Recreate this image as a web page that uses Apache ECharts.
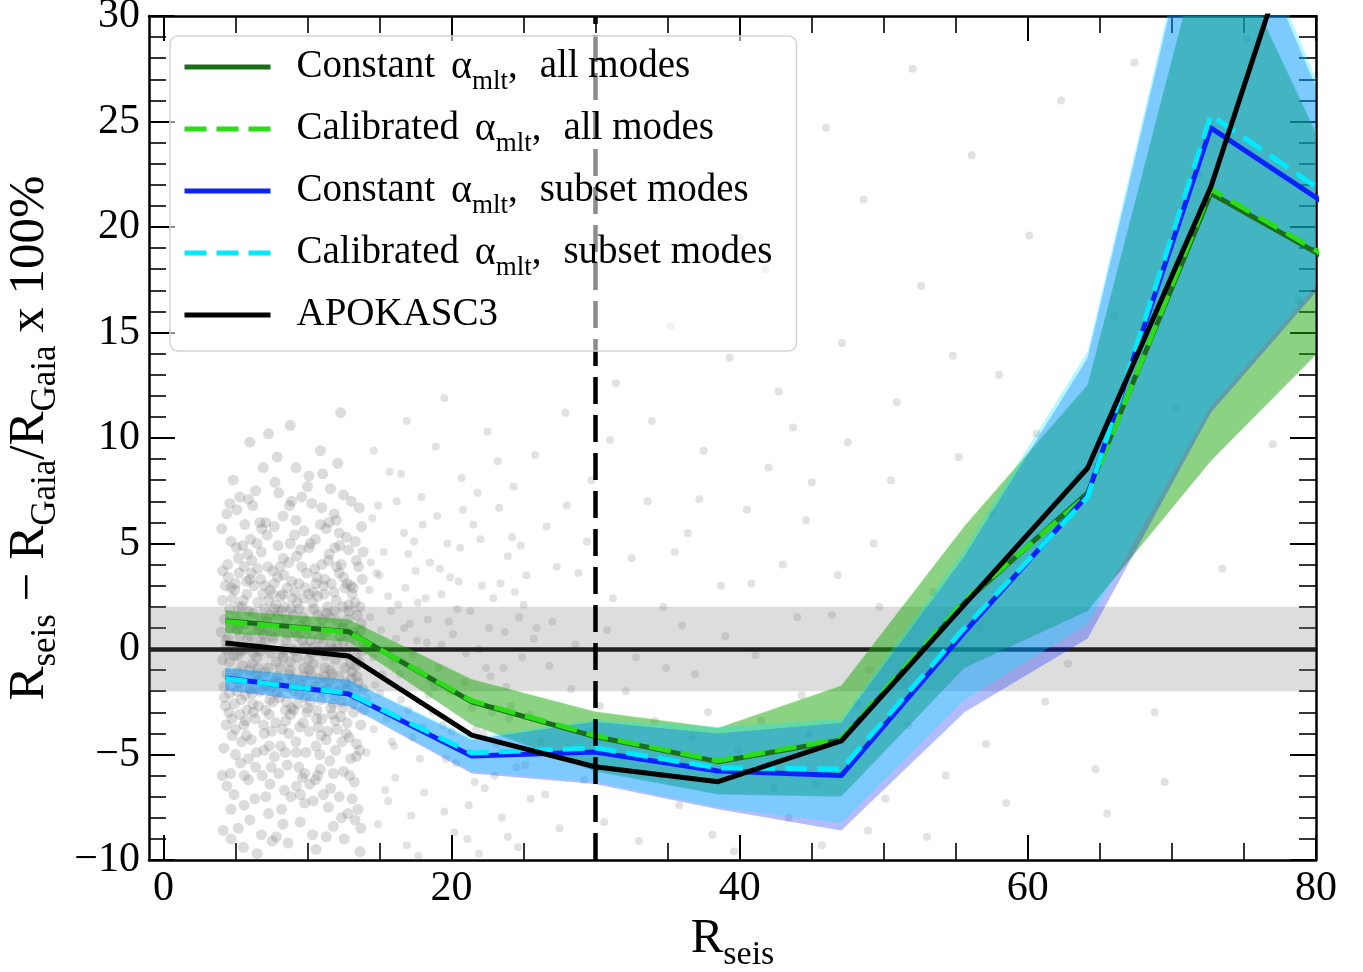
<!DOCTYPE html>
<html><head><meta charset="utf-8">
<script src="https://cdn.jsdelivr.net/npm/echarts@6/dist/echarts.min.js"></script>
<style>html,body{margin:0;padding:0;background:#fff}#c{width:1363px;height:972px}</style>
</head><body><div id="c"></div>
<script>
// ---- data ----
const binX = [4.3, 12.85, 21.4, 29.95, 38.5, 47.05, 55.6, 64.15, 72.7, 81.25];
const constAll = [1.34, 0.82, -2.50, -4.15, -5.34, -4.31, 2.2, 7.4, 21.6, 18.32];
const calibAll = [1.30, 0.80, -2.45, -4.10, -5.30, -4.25, 2.3, 7.3, 21.8, 18.4];
const constSub = [-1.37, -2.13, -5.07, -4.88, -5.78, -6.00, 0.8, 7.3, 24.7, 20.83];
const calibSub = [-1.40, -2.10, -4.93, -4.68, -5.64, -5.69, 1.0, 7.2, 25.3, 21.32];
const apokasc = [0.28, -0.33, -4.08, -5.58, -6.29, -4.36, 2.1, 8.58, 21.9, 39.66];

const constAllLo = [0.77, 0.35, -3.6, -5.8, -6.9, -7.0, -0.9, 1.8, 8.9, 14.8];
const constAllHi = [1.82, 1.40, -1.45, -2.97, -3.76, -1.75, 5.8, 12.5, 35.0, 22.6];
const calibAllLo = [0.75, 0.33, -3.55, -5.75, -6.85, -6.95, -0.85, 1.85, 8.95, 14.85];
const calibAllHi = [1.85, 1.42, -1.42, -2.95, -3.72, -1.72, 5.85, 12.55, 35.1, 22.7];
const constSubLo = [-1.95, -2.70, -5.9, -6.4, -7.6, -8.6, -3.0, 0.5, 11.2, 17.9];
const constSubHi = [-0.90, -1.47, -4.3, -3.45, -4.0, -3.5, 4.4, 13.8, 38.4, 24.6];
const calibSubLo = [-1.92, -2.66, -5.8, -6.3, -7.5, -8.25, -2.4, 1.2, 11.5, 18.2];
const calibSubHi = [-0.86, -1.44, -4.2, -3.35, -3.7, -3.3, 4.7, 14.1, 38.8, 25.0];

const lineNames = ['Constant αmlt, all modes', 'Calibrated αmlt, all modes', 'Constant αmlt, subset modes', 'Calibrated αmlt, subset modes', 'APOKASC3'];
const legendTexts = ['Constant {g|α}{s|mlt},{w| }all modes', 'Calibrated {g|α}{s|mlt},{w| }all modes', 'Constant {g|α}{s|mlt},{w| }subset modes', 'Calibrated {g|α}{s|mlt},{w| }subset modes', 'APOKASC3'];

const xMajor = [0, 20, 40, 60, 80];
const xMinor = [5, 10, 15, 25, 30, 35, 45, 50, 55, 65, 70, 75];
const band = [-2, 2];
const dashX = 30;

const cloudPts = [
[4.1,2.3],[4.4,-1.2],[4.7,5.1],[5.0,-3.8],[5.3,0.6],[5.6,3.9],[5.9,-6.2],[6.2,1.7],[6.5,-0.4],[6.8,4.6],[7.1,-2.9],[7.4,2.8],[7.7,-5.1],[8.0,0.9],[8.3,6.3],[8.6,-1.8],[8.9,3.2],[9.2,-4.4],[9.5,1.1],[9.8,-7.3],[10.1,4.8],[10.4,-0.7],[10.7,2.5],[11.0,-3.3],[11.3,5.7],[11.6,0.2],[11.9,-2.2],[12.2,3.6],[12.5,-5.8],[12.8,1.4],[13.1,-1.1],[13.4,4.2],[13.7,-3.6],
[4.2,-4.7],[4.5,3.4],[4.8,0.1],[5.1,6.6],[5.4,-2.4],[5.7,1.2],[6.0,-8.1],[6.3,3.0],[6.6,-1.5],[6.9,0.7],[7.2,5.4],[7.5,-3.9],[7.8,2.1],[8.1,-0.9],[8.4,-6.7],[8.7,4.1],[9.0,1.6],[9.3,-2.6],[9.6,7.2],[9.9,-4.9],[10.2,0.4],[10.5,3.8],[10.8,-1.4],[11.1,-6.9],[11.4,2.0],[11.7,-3.1],[12.0,6.1],[12.3,-0.2],[12.6,2.9],[12.9,-4.2],[13.2,0.8],[13.5,-7.6],[13.8,3.3],
[4.0,0.8],[4.3,-2.7],[4.6,1.9],[4.9,-6.9],[5.2,4.3],[5.5,-0.8],[5.8,2.6],[6.1,-4.3],[6.4,7.5],[6.7,-2.0],[7.0,0.3],[7.3,-7.8],[7.6,3.7],[7.9,-1.3],[8.2,1.8],[8.5,-3.4],[8.8,5.0],[9.1,-0.1],[9.4,-5.6],[9.7,2.4],[10.0,-2.8],[10.3,6.9],[10.6,-4.6],[10.9,1.0],[11.2,-0.9],[11.5,4.5],[11.8,-8.4],[12.1,1.3],[12.4,-2.5],[12.7,5.3],[13.0,-5.2],[13.3,2.2],[13.6,-0.6],[13.9,-2.9],
[4.15,-8.6],[4.45,4.0],[4.75,-3.3],[5.05,1.5],[5.35,-5.4],[5.65,5.9],[5.95,-1.0],[6.25,-3.0],[6.55,2.2],[6.85,-6.0],[7.15,1.3],[7.45,-0.2],[7.75,7.9],[8.05,-2.3],[8.35,3.5],[8.65,-9.2],[8.95,0.0],[9.25,4.4],[9.55,-1.7],[9.85,2.9],[10.15,-6.4],[10.45,1.9],[10.75,-3.7],[11.05,8.3],[11.35,-1.9],[11.65,3.1],[11.95,-4.8],[12.25,0.6],[12.55,-9.0],[12.85,4.7],[13.15,-2.6],[13.45,1.6],[13.75,5.8],
[4.05,5.7],[4.35,0.4],[4.65,-5.9],[4.95,2.8],[5.25,-1.6],[5.55,-9.4],[5.85,4.5],[6.15,-0.7],[6.45,-4.9],[6.75,3.3],[7.05,-1.1],[7.35,-4.6],[7.65,0.5],[7.95,4.9],[8.25,-3.8],[8.55,1.4],[8.85,-7.0],[9.15,2.7],[9.45,-2.1],[9.75,5.6],[10.05,-0.5],[10.35,-8.8],[10.65,3.4],[10.95,-2.4],[11.25,0.8],[11.55,-5.3],[11.85,6.4],[12.15,-1.3],[12.45,2.0],[12.75,-3.5],[13.05,7.0],[13.35,-0.8],[13.65,-9.6],
[4.25,1.4],[4.55,-3.0],[4.85,8.0],[5.15,-0.3],[5.45,2.0],[5.75,-4.1],[6.05,5.2],[6.35,-7.1],[6.65,0.9],[6.95,-3.6],[7.25,3.9],[7.55,-9.1],[7.85,-0.6],[8.15,2.5],[8.45,-4.9],[8.75,6.8],[9.05,-2.9],[9.35,0.6],[9.65,-6.1],[9.95,3.6],[10.25,-1.2],[10.55,5.2],[10.85,-5.0],[11.15,2.6],[11.45,-7.5],[11.75,0.0],[12.05,-3.8],[12.35,4.0],[12.65,-1.6],[12.95,0.2],[13.25,-6.3],[13.55,3.9],[13.85,-1.9],
[4.1,-0.5],[4.4,6.4],[4.7,-7.6],[5.0,3.1],[5.3,-3.1],[5.6,0.0],[5.9,7.1],[6.2,-2.6],[6.5,-9.7],[6.8,1.4],[7.1,6.0],[7.4,-1.9],[7.7,1.9],[8.0,-5.9],[8.3,-0.4],[8.6,2.9],[8.9,-2.8],[9.2,8.6],[9.5,-8.2],[9.8,0.1],[10.1,-3.9],[10.4,2.7],[10.7,-0.1],[11.0,4.0],[11.3,-4.3],[11.6,7.6],[11.9,1.8],[12.2,-7.0],[12.5,3.4],[12.8,-1.9],[13.1,2.6],[13.4,-4.5],[13.7,0.9],
[4.3,3.0],[4.6,-2.1],[4.9,-0.3],[5.2,-8.5],[5.5,4.9],[5.8,-2.9],[6.1,3.6],[6.4,-5.6],[6.7,6.0],[7.0,-4.0],[7.3,2.3],[7.6,-2.5],[7.9,9.1],[8.2,-7.6],[8.5,0.4],[8.8,-1.0],[9.1,5.4],[9.4,1.9],[9.7,-3.5],[10.0,7.7],[10.3,-2.0],[10.6,-9.5],[10.9,5.9],[11.2,3.3],[11.5,-1.5],[11.8,-5.9],[12.1,8.8],[12.4,1.0],[12.7,-4.0],[13.0,3.0],[13.3,-8.1],[13.6,6.7],[13.9,0.3],
[4.2,-1.8],[4.8,2.4],[5.4,-0.1],[6.0,3.3],[6.6,-2.7],[7.2,1.0],[7.8,-3.5],[8.4,2.0],[9.0,-1.4],[9.6,3.9],[10.2,-2.5],[10.8,0.5],[11.4,-3.9],[12.0,2.3],[12.6,-0.9],[13.2,-3.0],[4.5,0.5],[5.1,-2.0],[5.7,-3.4],[6.3,0.1],[6.9,2.6],[7.5,0.6],[8.1,3.9],[8.7,-4.0],[9.3,-0.4],[9.9,1.3],[10.5,-1.8],[11.1,3.0],[11.7,-1.2],[12.3,-3.2],[12.9,1.8],[13.5,-1.6],
[4.35,-3.6],[4.95,-1.4],[5.55,2.3],[6.15,-2.1],[6.75,0.4],[7.35,-3.1],[7.95,1.6],[8.55,-2.5],[9.15,0.8],[9.75,-0.9],[10.35,2.2],[10.95,-4.1],[11.55,1.5],[12.15,-2.0],[12.75,3.1],[13.35,-0.4],[4.65,1.0],[5.25,3.6],[5.85,0.5],[6.45,-1.2],[7.05,3.0],[7.65,-1.6],[8.25,-0.2],[8.85,1.9],[9.45,-3.7],[10.05,0.9],[10.65,-2.9],[11.25,-0.3],[11.85,2.7],[12.45,0.3],[13.05,-1.4],[13.65,2.0],
[4.4,-6.5],[5.0,-5.0],[5.6,-7.4],[6.2,6.8],[6.8,-8.8],[7.4,-6.4],[8.0,7.4],[8.6,-5.5],[9.2,6.1],[9.8,-5.9],[10.4,-7.2],[11.0,6.7],[11.6,-6.6],[12.2,5.5],[12.8,-7.8],[13.4,-5.1],[4.7,-9.0],[5.3,7.2],[5.9,-5.2],[6.5,5.0],[7.1,-7.0],[7.7,5.8],[8.3,-8.3],[8.9,7.0],[9.5,-6.9],[10.1,8.2],[10.7,-6.0],[11.3,-8.9],[11.9,4.8],[12.5,7.3],[13.1,-7.1],[13.7,-8.5],
[6.0,9.8],[8.8,10.6],[10.9,9.4],[12.3,11.2],[7.3,10.2],
[4.12,3.7],[4.58,-0.6],[5.07,4.8],[5.43,-4.4],[5.91,1.8],[6.37,-3.3],[6.82,5.7],[7.28,-0.9],[7.69,3.1],[8.14,-4.6],[8.61,0.7],[9.07,-2.0],[9.52,4.7],[9.96,-3.0],[10.44,0.1],[10.89,-5.7],[11.33,1.7],[11.78,-2.6],[12.24,4.9],[12.71,-0.3],[13.18,2.9],[13.62,-4.8],
[4.23,-2.3],[4.69,2.9],[5.16,-1.1],[5.62,-6.0],[6.08,0.6],[6.53,3.8],[6.97,-4.8],[7.41,1.6],[7.88,-2.1],[8.32,4.3],[8.79,-0.6],[9.23,-6.5],[9.68,1.5],[10.13,-1.0],[10.58,3.1],[11.04,-2.0],[11.49,6.0],[11.94,-0.5],[12.39,-4.4],[12.87,2.1],[13.32,5.1],[13.79,-0.1],
[4.31,0.0],[4.77,-4.1],[5.21,2.0],[5.69,-2.2],[6.14,4.2],[6.58,-0.9],[7.02,1.9],[7.49,-5.6],[7.93,3.4],[8.38,0.0],[8.83,-3.1],[9.29,2.2],[9.74,-1.3],[10.19,5.0],[10.63,-3.3],[11.08,0.3],[11.56,-1.0],[12.01,3.9],[12.47,-2.8],[12.92,-6.0],[13.41,0.6],[13.87,4.6],
[4.09,-6.0],[4.61,6.9],[5.12,0.9],[5.58,-3.6],[6.03,-1.9],[6.49,1.1],[6.93,8.6],[7.38,-2.4],[7.84,-8.9],[8.29,2.6],[8.74,-1.2],[9.21,-4.9],[9.64,0.4],[10.09,2.6],[10.55,-6.2],[11.02,1.4],[11.46,4.2],[11.91,-3.4],[12.36,-8.0],[12.83,0.7],[13.27,-2.2],[13.74,1.2],
[4.47,-0.1],[5.33,1.1],[6.22,-0.2],[7.12,-1.7],[8.02,-1.6],[8.93,2.4],[9.81,-2.3],[10.72,1.6],[11.62,-2.8],[12.52,1.0],[13.43,-1.3],[4.91,-2.6],[5.79,3.2],[6.71,-0.1],[7.59,2.6],[8.48,-2.9],[9.39,3.1],[10.27,-0.2],[11.18,-1.3],[12.08,0.2],[12.98,-0.7]
];
const midPts = [
[14.1,-4.9],[14.3,2.8],[14.5,6.2],[14.7,-1.7],[14.9,-8.3],[15.1,0.9],[15.3,4.6],[15.5,-3.3],[15.7,8.4],[15.9,-0.5],[16.1,-6.1],[16.3,2.1],[16.5,-2.4],[16.7,5.5],[16.9,-9.3],[17.1,1.2],[17.3,-4.2],[17.5,3.7],[17.7,-1.0],[17.9,7.2],[18.1,-6.8],[18.3,0.3],[18.5,4.1],[18.7,-3.0],[18.9,9.6],[19.1,-0.9],[19.3,2.6],[19.5,-7.7],[19.7,5.0],[19.9,-2.0],[20.1,0.7],[20.3,-5.4],[20.5,3.2],[20.7,8.1],[20.9,-1.6],[21.1,-9.0],[21.3,1.8],[21.5,5.9],[21.7,-3.8],[21.9,0.0],[22.1,3.0],[22.3,-6.6],[22.5,10.3],[22.7,-1.3],[22.9,2.4],[23.1,-4.5],[23.3,6.7],[23.5,-8.0],[23.7,0.8],[23.9,4.4],[24.1,-2.7],[24.3,7.7],[24.5,-5.6],[24.7,1.5],[24.9,-0.4],[25.2,3.5],[25.5,-7.1],[25.8,9.2],
[14.2,0.2],[14.6,-3.8],[15.0,3.5],[15.4,-6.7],[15.8,1.8],[16.2,7.0],[16.6,-0.6],[17.0,-2.9],[17.4,5.1],[17.8,-5.2],[18.2,2.4],[18.6,-1.5],[19.0,6.3],[19.4,-3.6],[19.8,1.3],[20.2,-8.7],[20.6,4.8],[21.0,-0.2],[21.4,-2.8],[21.8,7.4],[22.2,-4.0],[22.6,1.0],[23.0,-6.0],[23.4,3.1],[23.8,-1.8],[24.2,5.3],[24.6,-9.4],[25.0,2.1],[25.4,-3.1],[25.7,0.5],
[14.4,4.1],[15.2,-1.2],[16.0,-4.6],[16.8,2.9],[17.6,0.4],[18.4,-2.2],[19.2,3.8],[20.0,-3.9],[20.8,6.6],[21.6,-6.3],[22.4,-0.9],[23.2,8.9],[24.0,-3.3],[24.8,4.9],
[14.15,-2.3],[14.35,1.5],[14.55,-0.4],[14.8,3.6],[15.05,-2.1],[15.35,0.0],[15.6,2.5],[15.85,-4.4],[16.15,0.5],[16.4,-1.2],[16.7,1.0],[17.0,4.5],[17.3,-0.3],[17.65,2.2],[18.0,-3.7],[18.35,1.4],[18.8,-1.8],[19.3,0.2],[19.9,3.4],[14.9,6.8],[15.6,-7.2],[16.5,8.3],[17.2,-7.9],[18.0,5.9],
[19.6,-5.2],[20.4,1.9],[21.2,-7.4],[22.0,5.2],[22.8,-3.0],[23.6,-0.9],[24.4,2.7],[25.1,-5.5],[25.9,1.0],[14.6,9.4],[16.9,10.8],[19.5,11.9],[21.9,-9.7],[17.7,-9.8],[23.9,-8.9]
];
const sparsePts = [
[26.2,-4.4],[26.6,5.8],[27.0,1.3],[27.5,-8.5],[27.9,11.2],[28.3,-1.9],[28.8,3.6],[29.2,-6.2],[29.7,8.0],[30.3,-2.7],[30.8,0.9],[31.4,12.6],[31.9,-5.1],[32.5,4.3],[33.0,-9.1],[33.6,7.0],[34.1,-3.4],[34.7,2.0],[35.2,15.3],[35.8,-7.4],[36.4,5.5],[36.9,-1.2],[37.5,9.4],[38.1,-8.8],[38.7,3.0],[39.3,13.8],[39.9,-4.8],[40.5,6.6],[41.1,-0.3],[41.8,18.0],[42.4,-6.6],[43.0,4.0],[43.7,10.5],[44.3,-2.2],[45.0,7.9],[45.7,-9.3],[46.4,1.6],[47.1,14.5],[47.8,-5.2],[48.6,21.3],[49.3,5.0],[50.1,-7.1],[50.9,11.7],[51.7,-3.6],[52.6,17.2],[53.4,2.7],[54.3,-6.0],[55.2,9.1],[56.1,23.4],[57.1,-4.5],[58.0,13.0],[59.0,4.2],[60.1,19.6],[61.2,-2.5],[62.3,26.0],[63.5,8.3],[64.7,-5.7],[66.0,15.8],[67.4,27.8],[68.8,-3.0],[70.3,11.4],[71.9,22.5],[73.5,3.8],[75.2,28.9],[77.0,9.7],[78.8,16.5],
[26.8,-0.8],[28.0,6.8],[29.5,-3.9],[31.0,9.9],[32.8,-0.4],[34.5,-6.0],[36.0,1.1],[37.8,-3.0],[40.0,19.5],[42.0,8.6],[44.8,-4.0],[46.0,24.7],[49.0,-1.0],[52.0,27.5],[57.5,6.4],[65.5,-7.8],[69.5,-6.3],
[26.5,-6.9],[27.3,3.9],[28.1,-4.7],[28.6,0.2],[29.4,5.1],[30.6,-8.2],[31.2,2.4],[32.1,-2.0],[33.3,-5.9],[33.9,10.8],[34.9,-0.9],[35.5,4.6],[36.7,-4.2],[37.2,7.1],[38.4,-6.0],[39.0,0.6],[39.6,-9.6],[40.8,3.1],[41.5,-3.4],[42.7,12.2],[43.4,-8.0],[44.0,1.5],[44.6,6.1],[45.3,-6.4],[46.8,3.5],[47.5,9.8],[48.2,-2.6],[48.9,-8.6],[49.7,2.0],[50.5,8.0],[51.3,-1.5],[53.0,-8.9],[54.8,13.9],[56.7,1.0],[58.5,-7.3],[60.6,10.2],[62.8,-0.7]
];

// ---- chart ----
const font = 'Liberation Serif';
const zip = arr => binX.map((x, i) => [x, arr[i]]);

function bandSeries(lo, hi, color) {
  return {
    type: 'custom', z: 2, silent: true, clip: true,
    data: [[binX[0], lo[0]]],
    renderItem: function (params, api) {
      const pts = [];
      for (let i = 0; i < binX.length; i++) pts.push(api.coord([binX[i], hi[i]]));
      for (let i = binX.length - 1; i >= 0; i--) pts.push(api.coord([binX[i], lo[i]]));
      return { type: 'polygon', shape: { points: pts }, style: { fill: color } };
    }
  };
}
function lineSeries(name, vals, color, dashed) {
  return {
    type: 'line', name: name, z: 3, data: zip(vals), symbol: 'none', clip: true, silent: true,
    lineStyle: { color: color, width: 5, type: dashed ? [22, 10] : 'solid', cap: 'butt', join: 'round' },
    itemStyle: { color: color }
  };
}
function xAxisDef(pos, ticks, len, isMajor, showLine) {
  return {
    type: 'value', min: -1, max: 80, position: pos, splitLine: { show: false },
    axisLine: { show: showLine, onZero: false, lineStyle: { color: '#000', width: 2.5 } },
    axisTick: { show: true, inside: true, length: len, customValues: ticks, lineStyle: { color: '#000', width: isMajor ? 2 : 1.6 } },
    axisLabel: { show: false }
  };
}
function yAxisDef(pos) {
  return {
    type: 'value', min: -10, max: 30, interval: 5, position: pos, splitLine: { show: false },
    axisLine: { show: true, onZero: false, lineStyle: { color: '#000', width: 2.5 } },
    axisTick: { show: true, inside: true, length: 26, lineStyle: { color: '#000', width: 2 } },
    minorTick: { show: true, splitNumber: 5, length: 17, lineStyle: { color: '#000', width: 1.6 } },
    axisLabel: { show: false }
  };
}
const xNameStyle = { color: '#000', fontFamily: font, fontSize: 49, lineHeight: 66,
  rich: { s: { color: '#000', fontFamily: font, fontSize: 34, lineHeight: 34, padding: [32, 0, 0, 0] } } };
const yNameStyle = { color: '#000', fontFamily: font, fontSize: 51, lineHeight: 68,
  rich: { s: { color: '#000', fontFamily: font, fontSize: 35, lineHeight: 35, padding: [33, 0, 0, 0] } } };

const xBottom = xAxisDef('bottom', xMajor, 25, true, true);
xBottom.axisLabel = { show: true, customValues: xMajor, margin: 8, color: '#000', fontFamily: font, fontSize: 42 };
xBottom.name = 'R{s|seis}';
xBottom.nameLocation = 'middle';
xBottom.nameGap = 46;
xBottom.nameMoveOverlap = false;
xBottom.nameTextStyle = xNameStyle;

const yLeft = yAxisDef('left');
yLeft.axisLabel = { show: true, margin: 9, color: '#000', fontFamily: font, fontSize: 42,
  formatter: v => String(v).replace('-', '\u2212') };
yLeft.name = 'R{s|seis} \u2212 R{s|Gaia}/R{s|Gaia} x 100%';
yLeft.nameLocation = 'middle';
yLeft.nameRotate = 90;
yLeft.nameGap = 79;
yLeft.nameTextStyle = yNameStyle;

const option = {
  animation: false,
  backgroundColor: '#fff',
  grid: { left: 149, right: 47, top: 16, bottom: 112, containLabel: false, outerBoundsMode: 'none' },
  xAxis: [xBottom, xAxisDef('bottom', xMinor, 17, false, false), xAxisDef('top', xMajor, 25, true, true), xAxisDef('top', xMinor, 17, false, false)],
  yAxis: [yLeft, yAxisDef('right')],
  legend: {
    data: lineNames, orient: 'vertical', left: 170, top: 36, z: 10, selectedMode: false,
    itemWidth: 86, itemHeight: 14, itemGap: 6, padding: [3, 24, 8, 12],
    backgroundColor: 'rgba(255,255,255,0.55)', borderColor: '#d4d4d4', borderWidth: 1.5, borderRadius: 8,
    lineStyle: { width: 5 },
    itemStyle: { opacity: 0 },
    formatter: name => legendTexts[lineNames.indexOf(name)],
    textStyle: { color: '#000', fontFamily: font, fontSize: 39, lineHeight: 56, padding: [0, 0, 0, 21],
      rich: {
        s: { color: '#000', fontFamily: font, fontSize: 27, lineHeight: 27, padding: [29, 0, 0, 0] },
        g: { color: '#000', fontFamily: font, fontSize: 40, lineHeight: 40, padding: [0, 0, 0, 6] },
        w: { color: '#000', fontFamily: font, fontSize: 39, lineHeight: 39, width: 22 }
      } }
  },
  series: [
    { type: 'scatter', z: 1, silent: true, data: cloudPts, symbolSize: 11, itemStyle: { color: 'rgba(115,115,115,0.31)' },
      markArea: { z: 1, silent: true, itemStyle: { color: 'rgba(128,128,128,0.27)' }, data: [[{ yAxis: band[0] }, { yAxis: band[1] }]] },
      markLine: { z: 1.5, silent: true, symbol: ['none', 'none'], label: { show: false },
        lineStyle: { color: '#1e1e1e', width: 4.5, type: 'solid' }, data: [{ yAxis: 0 }] } },
    { type: 'scatter', z: 1, silent: true, data: midPts.concat(sparsePts), symbolSize: 8, itemStyle: { color: 'rgba(120,120,120,0.27)' } },
    bandSeries(constAllLo, constAllHi, 'rgba(0,100,0,0.3)'),
    bandSeries(calibAllLo, calibAllHi, 'rgba(50,220,20,0.3)'),
    bandSeries(constSubLo, constSubHi, 'rgba(0,34,255,0.3)'),
    bandSeries(calibSubLo, calibSubHi, 'rgba(0,234,255,0.3)'),
    lineSeries(lineNames[0], constAll, '#1a6e1a', false),
    lineSeries(lineNames[1], calibAll, '#2ddc18', true),
    lineSeries(lineNames[2], constSub, '#0a22ff', false),
    lineSeries(lineNames[3], calibSub, '#00eaff', true),
    Object.assign(lineSeries(lineNames[4], apokasc, '#000000', false), {
      markLine: { z: 4, silent: true, symbol: ['none', 'none'], label: { show: false },
        lineStyle: { color: '#000', width: 4.5, type: [27, 11] }, data: [{ xAxis: dashX }] } })
  ]
};
const chart = echarts.init(document.getElementById('c'));
chart.setOption(option);
</script>
</body></html>
